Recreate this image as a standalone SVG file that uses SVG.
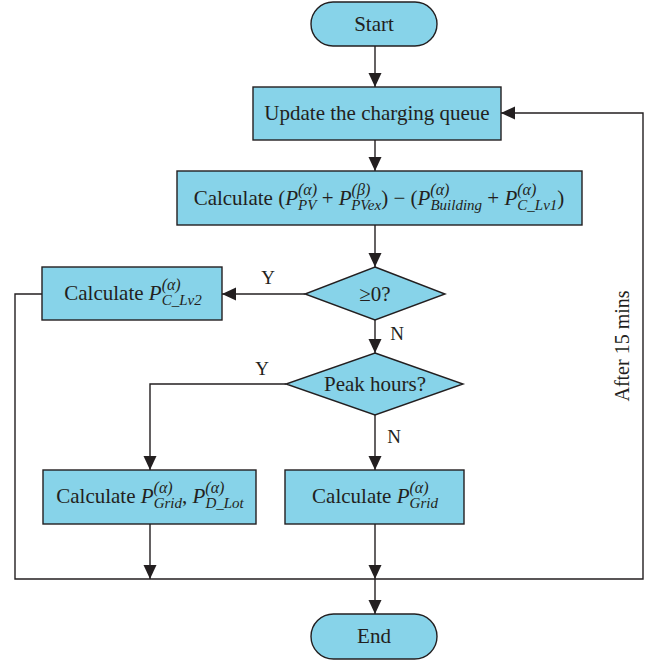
<svg xmlns="http://www.w3.org/2000/svg" width="661" height="661" viewBox="0 0 661 661">
<defs>
<style>
.n{fill:#87d3e9;stroke:#231f20;stroke-width:1.4}
.t{font-family:"Liberation Serif","Times New Roman",serif;font-size:21px;fill:#231f20;text-anchor:middle}
.l{font-family:"Liberation Serif","Times New Roman",serif;font-size:19px;fill:#231f20;text-anchor:middle}
.i{font-style:italic}
.s{font-size:15px}
.p{font-size:16px;font-style:italic}
.c{fill:none;stroke:#231f20;stroke-width:1.4}
</style>
<marker id="a" viewBox="0 0 14 14" refX="14" refY="7" markerWidth="14" markerHeight="14" markerUnits="userSpaceOnUse" orient="auto">
<path d="M0,0.5 L14,7 L0,13.5 Z" fill="#231f20"/>
</marker>
</defs>
<rect width="661" height="661" fill="#fff"/>
<g id="connectors">
<path class="c" d="M375,46 V87" marker-end="url(#a)"/>
<path class="c" d="M375,140 V171" marker-end="url(#a)"/>
<path class="c" d="M375,225 V267" marker-end="url(#a)"/>
<path class="c" d="M305,294 H222" marker-end="url(#a)"/>
<path class="c" d="M375,320 V353" marker-end="url(#a)"/>
<path class="c" d="M286,384 H150 V470" marker-end="url(#a)"/>
<path class="c" d="M375,415 V470" marker-end="url(#a)"/>
<path class="c" d="M150,524 V579" marker-end="url(#a)"/>
<path class="c" d="M375,524 V579" marker-end="url(#a)"/>
<path class="c" d="M42,294 H15 V579 H643 V113 H501" marker-end="url(#a)"/>
<path class="c" d="M375,579 V614" marker-end="url(#a)"/>
<text class="l" x="268" y="284">Y</text>
<text class="l" x="397" y="340">N</text>
<text class="l" x="262" y="375">Y</text>
<text class="l" x="394" y="443">N</text>
<text class="l" style="font-size:20px" transform="translate(629,346) rotate(-90)" x="0" y="0">After 15 mins</text>
</g>
<g id="start">
<rect class="n" x="311" y="2" width="126" height="44" rx="22"/>
<text class="t" x="374" y="31">Start</text>
</g>
<g id="update">
<rect class="n" x="253" y="87" width="248" height="53"/>
<text class="t" x="377" y="120">Update the charging queue</text>
</g>
<g id="calc1">
<rect class="n" x="177" y="171" width="405" height="54"/>
<text class="t" x="379" y="205">Calculate (<tspan class="i">P</tspan><tspan class="p" dy="-10">(α)</tspan><tspan class="s i" dx="-19" dy="15">PV</tspan><tspan dy="-5"> + </tspan><tspan class="i">P</tspan><tspan class="p" dy="-10">(β)</tspan><tspan class="s i" dx="-19" dy="15">PVex</tspan><tspan dy="-5">) − (</tspan><tspan class="i">P</tspan><tspan class="p" dy="-10">(α)</tspan><tspan class="s i" dx="-19" dy="15">Building</tspan><tspan dy="-5"> + </tspan><tspan class="i">P</tspan><tspan class="p" dy="-10">(α)</tspan><tspan class="s i" dx="-19" dy="15">C_Lv1</tspan><tspan dy="-5">)</tspan></text>
</g>
<g id="cond1">
<polygon class="n" points="375,267 445,294 375,320 305,294"/>
<text class="t" x="375" y="301">≥0?</text>
</g>
<g id="calc2">
<rect class="n" x="42" y="267" width="180" height="53"/>
<text class="t" x="133" y="300">Calculate <tspan class="i">P</tspan><tspan class="p" dy="-10">(α)</tspan><tspan class="s i" dx="-19" dy="15">C_Lv2</tspan></text>
</g>
<g id="cond2">
<polygon class="n" points="375,353 463,384 375,415 286,384"/>
<text class="t" x="375" y="391">Peak hours?</text>
</g>
<g id="calc3">
<rect class="n" x="43" y="470" width="213" height="54"/>
<text class="t" x="150" y="503">Calculate <tspan class="i">P</tspan><tspan class="p" dy="-10">(α)</tspan><tspan class="s i" dx="-19" dy="15">Grid</tspan><tspan dy="-5">, </tspan><tspan class="i">P</tspan><tspan class="p" dy="-10">(α)</tspan><tspan class="s i" dx="-19" dy="15">D_Lot</tspan></text>
</g>
<g id="calc4">
<rect class="n" x="285" y="470" width="179" height="54"/>
<text class="t" x="375" y="503">Calculate <tspan class="i">P</tspan><tspan class="p" dy="-10">(α)</tspan><tspan class="s i" dx="-19" dy="15">Grid</tspan></text>
</g>
<g id="end">
<rect class="n" x="311" y="614" width="126" height="45" rx="22.5"/>
<text class="t" x="374" y="643">End</text>
</g>
</svg>
